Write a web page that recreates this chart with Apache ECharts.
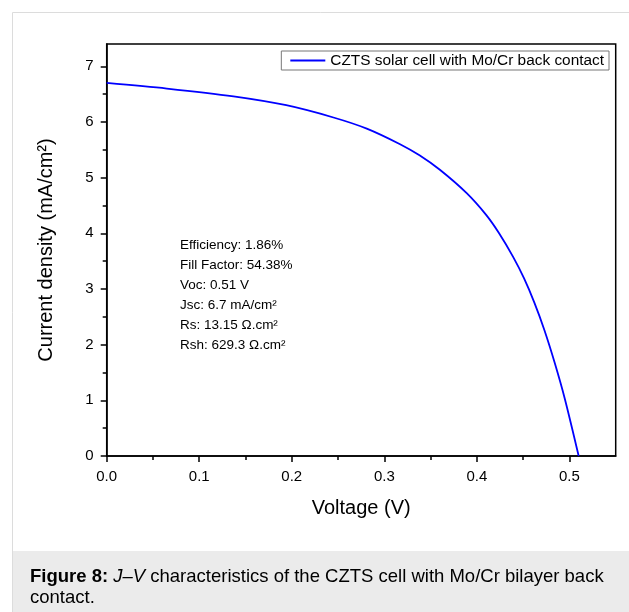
<!DOCTYPE html>
<html>
<head>
<meta charset="utf-8">
<script src="https://cdn.jsdelivr.net/npm/echarts@6/dist/echarts.min.js"></script>
<style>
  html, body { margin: 0; padding: 0; background: #fff; }
  #chart { width: 629px; height: 612px; }
</style>
</head>
<body>
<div id="chart"></div>
<script>
// J-V curve
const voltage = [0, 0.065, 0.137, 0.194, 0.245, 0.281, 0.317, 0.338, 0.36, 0.389, 0.41, 0.424, 0.439, 0.451, 0.462, 0.473, 0.484, 0.495, 0.51];
const currentDensity = [6.70, 6.60, 6.46, 6.30, 6.08, 5.88, 5.60, 5.40, 5.14, 4.72, 4.33, 4.00, 3.58, 3.19, 2.76, 2.26, 1.68, 1.03, 0];

// ticks
const xMajorTicks = [0, 0.1, 0.2, 0.3, 0.4, 0.5];
const xMinorTicks = [0.05, 0.15, 0.25, 0.35, 0.45];
const yMajorTicks = [0, 1, 2, 3, 4, 5, 6, 7];
const yMinorTicks = [0.5, 1.5, 2.5, 3.5, 4.5, 5.5, 6.5];

const seriesName = 'CZTS solar cell with Mo/Cr back contact';
const cellParams = [
    'Efficiency: 1.86%',
    'Fill Factor: 54.38%',
    'Voc: 0.51 V',
    'Jsc: 6.7 mA/cm\u00B2',
    'Rs: 13.15 \u03A9.cm\u00B2',
    'Rsh: 629.3 \u03A9.cm\u00B2'
];

(function() {
    const chart = echarts.init(document.getElementById('chart'), null, { renderer: 'canvas' });
    const font = 'Liberation Sans, Arial, sans-serif';
    const black = { color: '#000', width: 1.5 };

    // invisible overlay axis that only carries the short minor ticks
    const minorAxis = (values, position, min, max) => ({
        type: 'value', position, min, max,
        axisLine: { show: false },
        axisTick: { show: true, length: 4, customValues: values, lineStyle: black },
        axisLabel: { show: false },
        splitLine: { show: false }
    });

    const option = {
        backgroundColor: '#fff',
        animation: false,
        textStyle: { fontFamily: font },
        grid: {
            left: 106.7, right: 13.3, top: 44, bottom: 156,
            show: true, borderColor: '#000', borderWidth: 1.5,
            backgroundColor: 'transparent'
        },
        legend: {
            right: 20, top: 51,
            padding: [2, 5, 2, 9],
            borderColor: '#777', borderWidth: 1,
            icon: 'rect', itemWidth: 35, itemHeight: 2,
            textStyle: { color: '#000', fontSize: 15.4, fontFamily: font },
            data: [seriesName]
        },
        xAxis: [{
            type: 'value', position: 'bottom',
            min: 0, max: 0.55,
            name: 'Voltage (V)',
            nameLocation: 'middle', nameGap: 42,
            nameTextStyle: { color: '#000', fontSize: 20, fontFamily: font },
            axisLine: { lineStyle: black },
            axisTick: { show: true, length: 6, customValues: xMajorTicks, lineStyle: black },
            axisLabel: {
                color: '#000', fontSize: 15, margin: 13,
                customValues: xMajorTicks,
                formatter: v => v.toFixed(1)
            },
            splitLine: { show: false }
        }, minorAxis(xMinorTicks, 'bottom', 0, 0.55)],
        yAxis: [{
            type: 'value', position: 'left',
            min: 0, max: 7.4,
            name: 'Current density (mA/cm\u00B2)',
            nameLocation: 'middle', nameGap: 50,
            nameTextStyle: { color: '#000', fontSize: 20, fontFamily: font },
            axisLine: { lineStyle: black },
            axisTick: { show: true, length: 6, customValues: yMajorTicks, lineStyle: black },
            axisLabel: { color: '#000', fontSize: 15, margin: 13, customValues: yMajorTicks },
            splitLine: { show: false }
        }, minorAxis(yMinorTicks, 'left', 0, 7.4)],
        series: [{
            name: seriesName,
            type: 'line',
            data: voltage.map((v, i) => [v, currentDensity[i]]),
            smooth: 0.3,
            symbol: 'none',
            itemStyle: { color: '#0000ff' },
            lineStyle: { color: '#0000ff', width: 1.8 }
        }],
        graphic: [
            // page frame
            { type: 'line', shape: { x1: 12.5, y1: 12.5, x2: 629, y2: 12.5 }, style: { stroke: '#dcdcdc', lineWidth: 1 } },
            { type: 'line', shape: { x1: 12.5, y1: 12.5, x2: 12.5, y2: 612 }, style: { stroke: '#dcdcdc', lineWidth: 1 } },
            // caption band
            { type: 'rect', shape: { x: 13, y: 551, width: 616, height: 61 }, style: { fill: '#ebebeb' } },
            {
                type: 'text', left: 30, top: 566,
                style: {
                    text: '{b|Figure 8:} {i|J\u2013V} characteristics of the CZTS cell with Mo/Cr bilayer back\ncontact.',
                    fontFamily: font, fontSize: 18.5, lineHeight: 21.3, fill: '#000',
                    rich: {
                        b: { fontWeight: 'bold', fontSize: 18.5, fontFamily: font, lineHeight: 21.3 },
                        i: { fontStyle: 'italic', fontSize: 18.5, fontFamily: font, lineHeight: 21.3 }
                    }
                }
            },
            // cell parameters
            {
                type: 'text', left: 180, top: 235,
                style: {
                    text: cellParams.join('\n'),
                    fontFamily: font, fontSize: 13.5, lineHeight: 20, fill: '#000'
                }
            }
        ]
    };

    chart.setOption(option);
})();
</script>
</body>
</html>
